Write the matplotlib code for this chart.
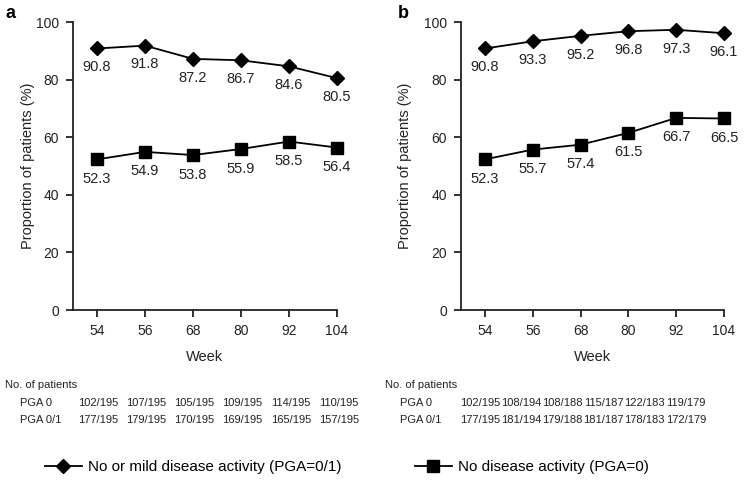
import matplotlib
matplotlib.use("Agg")
import matplotlib.pyplot as plt
from matplotlib.lines import Line2D

plt.rcParams['font.family'] = ['Liberation Sans', 'DejaVu Sans']

weeks = ["54", "56", "68", "80", "92", "104"]
a_mild = [90.8, 91.8, 87.2, 86.7, 84.6, 80.5]
a_none = [52.3, 54.9, 53.8, 55.9, 58.5, 56.4]
b_mild = [90.8, 93.3, 95.2, 96.8, 97.3, 96.1]
b_none = [52.3, 55.7, 57.4, 61.5, 66.7, 66.5]
a_pga0 = ["102/195", "107/195", "105/195", "109/195", "114/195", "110/195"]
a_pga01 = ["177/195", "179/195", "170/195", "169/195", "165/195", "157/195"]
b_pga0 = ["102/195", "108/194", "108/188", "115/187", "122/183", "119/179"]
b_pga01 = ["177/195", "181/194", "179/188", "181/187", "178/183", "172/179"]
yticks = [0, 20, 40, 60, 80, 100]
legend_labels = ["No or mild disease activity (PGA=0/1)", "No disease activity (PGA=0)"]

W, H = 747, 486
fig = plt.figure(figsize=(W / 100, H / 100), dpi=100)

def px(x, y):
    return x / W, 1 - y / H

dark = '#222222'

def panel(left, right, mild, none, letter, tcol_start, tcol_end, pga0, pga01, lab_x, letter_x, ylab_x):
    top, bottom = 22, 310
    ax = fig.add_axes([left / W, 1 - bottom / H, (right - left) / W, (bottom - top) / H])
    x = list(range(len(weeks)))
    ax.plot(x, mild, color='black', lw=1.3, marker='D', ms=7, mfc='black', mec='black', clip_on=False)
    ax.plot(x, none, color='black', lw=1.3, marker='s', ms=8, mfc='black', mec='black', clip_on=False)
    for xi, v in zip(x, mild):
        ax.annotate(f"{v:.1f}", (xi, v), xytext=(0, -8.5), textcoords='offset points',
                    ha='center', va='top', fontsize=10.5, color=dark)
    for xi, v in zip(x, none):
        ax.annotate(f"{v:.1f}", (xi, v), xytext=(0, -9), textcoords='offset points',
                    ha='center', va='top', fontsize=10.5, color=dark)
    ax.set_xlim(-0.5, 5)
    ax.set_ylim(0, 100)
    ax.set_xticks(x)
    ax.set_xticklabels(weeks)
    ax.set_yticks(yticks)
    ax.spines['top'].set_visible(False)
    ax.spines['right'].set_visible(False)
    for s in ('left', 'bottom'):
        ax.spines[s].set_linewidth(1.3)
        ax.spines[s].set_color(dark)
    ax.tick_params(axis='both', labelsize=10, colors=dark, width=1.3, length=5, direction='out', pad=5)
    ax.set_xlabel("Week", fontsize=10.5, color=dark, labelpad=9)
    ax.set_ylabel("Proportion of patients (%)", fontsize=10.5, color=dark)
    ax.yaxis.set_label_coords((ylab_x - left) / (right - left), 0.5)
    fig.text(*px(letter_x, 13), letter, fontsize=13, fontweight='bold', ha='left', va='center')
    # table
    fig.text(*px(lab_x, 385), "No. of patients", fontsize=8, color=dark, ha='left', va='center')
    fig.text(*px(lab_x + 15, 403), "PGA 0", fontsize=8, color=dark, ha='left', va='center')
    fig.text(*px(lab_x + 15, 420), "PGA 0/1", fontsize=8, color=dark, ha='left', va='center')
    n = len(pga0)
    for i in range(n):
        cx = tcol_start + (tcol_end - tcol_start) * i / (n - 1)
        fig.text(*px(cx, 403), pga0[i], fontsize=8, color=dark, ha='center', va='center')
        fig.text(*px(cx, 420), pga01[i], fontsize=8, color=dark, ha='center', va='center')
    return ax

panel(73, 337, a_mild, a_none, 'a', 98, 339, a_pga0, a_pga01, 5, 5, 35)
panel(461, 724, b_mild, b_none, 'b', 480, 686, b_pga0, b_pga01, 385, 398, 412)

# legend
h1 = Line2D([], [], color='black', lw=1.3, marker='D', ms=7)
h2 = Line2D([], [], color='black', lw=1.3, marker='s', ms=8)
fig.legend([h1], [legend_labels[0]], loc='center left', bbox_to_anchor=px(45, 467),
           frameon=False, fontsize=11, handlelength=2.4, handletextpad=0.4, borderaxespad=0, borderpad=0)
fig.legend([h2], [legend_labels[1]], loc='center left', bbox_to_anchor=px(415, 467),
           frameon=False, fontsize=11, handlelength=2.4, handletextpad=0.4, borderaxespad=0, borderpad=0)

fig.savefig("out.png", dpi=100)
